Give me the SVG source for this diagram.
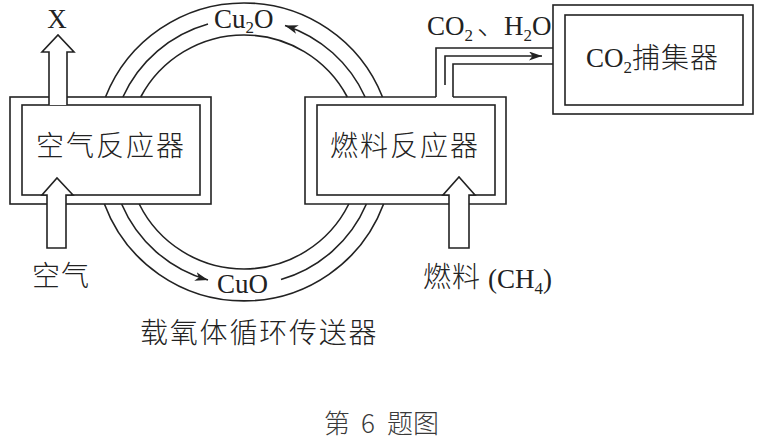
<svg xmlns="http://www.w3.org/2000/svg" width="760" height="439" viewBox="0 0 760 439">
<defs>
<style>
.ln{fill:none;stroke:#222;stroke-width:1.6}
.bx{fill:#fff;stroke:#222;stroke-width:1.6}
.ar{fill:#fff;stroke:#222;stroke-width:1.6;stroke-linejoin:miter}
.zh{font-family:"Noto Sans CJK SC","Noto Sans CJK JP",sans-serif;font-size:28px;fill:#222;font-weight:300}
.la{font-family:"Liberation Serif","Times New Roman",serif;font-size:27px;fill:#222}
.sb{font-size:17px}
.cap{font-family:"Noto Sans CJK SC",sans-serif;font-size:26px;fill:#3a3a3a;font-weight:300}
</style>
<marker id="ah" markerUnits="userSpaceOnUse" markerWidth="14" markerHeight="10" refX="13" refY="4.5" orient="auto">
<path d="M0,0 L13,4.5 L0,9 L3.5,4.5 z" fill="#222"/>
</marker>
</defs>
<rect width="760" height="439" fill="#fff"/>

<g id="air-reactor">
<rect class="bx" x="10" y="97" width="201" height="107"/>
<rect class="ln" x="22" y="105" width="178" height="90"/>
<text class="zh" x="36" y="156" letter-spacing="2">空气反应器</text>
</g>

<g id="fuel-reactor">
<path class="ln" d="M436,97 H305 V204 H506 V97 H453"/>
<rect class="ln" x="317" y="105" width="178" height="90"/>
<text class="zh" x="330" y="156" letter-spacing="2">燃料反应器</text>
</g>

<g id="co2-capture">
<rect class="bx" x="553" y="5" width="200" height="109"/>
<rect class="ln" x="565" y="15" width="178" height="90"/>
<text class="la" x="586" y="67">CO<tspan class="sb" dy="6">2</tspan></text>
<text class="zh" x="632" y="68" letter-spacing="1">捕集器</text>
</g>

<g id="connectors">
<path class="ln" d="M105.5,97 A149,149 0 0 1 382.5,97"/>
<path class="ln" d="M140.7,97 A117,117 0 0 1 347.3,97"/>
<path class="ln" d="M104.4,204 A149,149 0 0 0 383.6,204"/>
<path class="ln" d="M139.2,204 A117,117 0 0 0 348.8,204"/>
<path class="ln" d="M365.1,97 A133,133 0 0 0 285,25.4" marker-end="url(#ah)"/>
<path class="ln" d="M208,24 A133,133 0 0 0 122.9,97"/>
<path class="ln" d="M121.6,204 A133,133 0 0 0 208,280" marker-end="url(#ah)"/>
<path class="ln" d="M281,279.5 A133,133 0 0 0 366.4,204"/>
<path class="ln" d="M436,97 V48 H553"/>
<path class="ln" d="M453,97 V64 H553"/>
<path class="ln" d="M445,85 V56 H542" marker-end="url(#ah)"/>
<path class="ar" d="M49,105 V52 H42 L58,35 L74,52 H67 V105"/>
<path class="ar" d="M73,195 L57,178 L42,195 H47 V248 H66 V195 Z"/>
<path class="ar" d="M475,195 L459,177 L443,195 H449 V248 H469 V195 Z"/>
</g>

<g id="labels">
<text class="la" x="57" y="28" text-anchor="middle" font-size="27">X</text>
<text class="la" x="214" y="28">Cu<tspan class="sb" dy="5">2</tspan><tspan dy="-5">O</tspan></text>
<text class="la" x="217" y="293">CuO</text>
<text class="la" x="427" y="35">CO<tspan class="sb" dy="6">2</tspan></text>
<text class="zh" x="477" y="35">、</text>
<text class="la" x="504" y="35">H<tspan class="sb" dy="6">2</tspan><tspan dy="-6">O</tspan></text>
<text class="zh" x="32" y="286" letter-spacing="1">空气</text>
<text class="zh" x="423" y="287" letter-spacing="1">燃料</text>
<text class="la" x="488" y="288">(CH<tspan class="sb" dy="6">4</tspan><tspan dy="-6">)</tspan></text>
<text class="zh" x="140" y="343" letter-spacing="1.8">载氧体循环传送器</text>
<text class="cap" x="324" y="433">第</text>
<text class="cap" x="361" y="433" font-family="Liberation Sans, sans-serif" font-size="24">6</text>
<text class="cap" x="387" y="433">题图</text>
</g>
</svg>
